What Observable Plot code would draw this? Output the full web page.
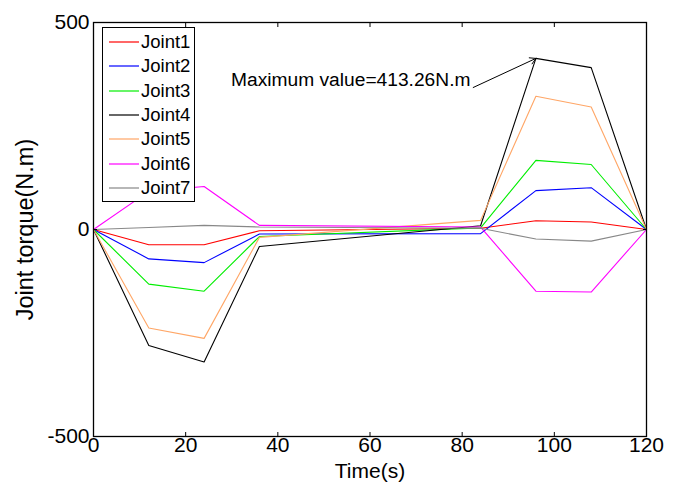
<!DOCTYPE html>
<html>
<head>
<meta charset="utf-8">
<script src="https://cdn.jsdelivr.net/npm/d3@7"></script>
<script src="https://cdn.jsdelivr.net/npm/@observablehq/plot@0.6"></script>
<style>
  html, body { margin: 0; padding: 0; background: #fff; }
  #wrap { position: relative; width: 678px; height: 483px; font-family: "Liberation Sans", Arial, sans-serif; }
  #legend { position: absolute; left: 102px; top: 27px; width: 93px; height: 175px; border: 1px solid #000; background: #fff; box-sizing: border-box; }
  #legend .row { position: absolute; left: 0; height: 20px; display: flex; align-items: center; font-size: 18.5px; color: #000; }
  #legend svg { margin-left: 6px; margin-right: 2px; }
</style>
</head>
<body>
<div id="wrap"><div id="legend"></div></div>
<script>
// Time samples (s)
const times = [0, 12, 24, 36, 84, 96, 108, 120];
// Joint torques (N.m)
const joint1 = [0, -37, -37, -3, 3, 21, 18, 0];
const joint2 = [0, -71, -80, -11, -10, 94, 101, 0];
const joint3 = [0, -132, -149, -17, 4, 167, 157, 0];
const joint4 = [0, -280, -320, -41, 9, 413.26, 391, 0];
const joint5 = [0, -238, -263, -19, 22, 322, 296, 0];
const joint6 = [0, 92, 104, 10, 6, -149, -151, 0];
const joint7 = [0, 5, 10, 6, 3, -23, -28, 0];

const seriesNames = ["Joint1", "Joint2", "Joint3", "Joint4", "Joint5", "Joint6", "Joint7"];
const seriesValues = [joint1, joint2, joint3, joint4, joint5, joint6, joint7];
const seriesColors = ["#ff0000", "#0000ff", "#00ee00", "#000000", "#ffa666", "#ff00ff", "#888888"];

const xTicks = [0, 20, 40, 60, 80, 100, 120];
const yTicks = [-500, 0, 500];

// annotation
const annText = "Maximum value=413.26N.m";
const annTextPos = {t: 81.8, v: 362};
const annArrowFrom = {t: 82.4, v: 343};
const annArrowTo = {t: 96, v: 413.26};

const rows = [];
seriesNames.forEach((name, i) => {
  times.forEach((t, j) => rows.push({series: name, t, v: seriesValues[i][j]}));
});

const font = "Liberation Sans, Arial, sans-serif";

const plot = Plot.plot({
  width: 678,
  height: 483,
  marginLeft: 93,
  marginRight: 32,
  marginTop: 22,
  marginBottom: 47,
  style: {fontFamily: font, fontSize: "21px", background: "transparent", color: "#000"},
  x: {domain: [0, 120]},
  y: {domain: [-500, 500]},
  color: {domain: seriesNames, range: seriesColors},
  marks: [
    Plot.line(rows, {x: "t", y: "v", z: "series", stroke: "series", strokeWidth: 1.1}),
    Plot.axisX(xTicks, {anchor: "bottom", tickSize: -4, tickFormat: d => String(d), tickPadding: 5, label: "Time(s)", labelAnchor: "center", labelOffset: 41, labelArrow: "none", fontSize: 21}),
    Plot.axisX(xTicks, {anchor: "top", tickSize: -4, tickFormat: null, text: null, label: null}),
    Plot.axisY(yTicks, {anchor: "left", tickSize: -4, tickFormat: d => String(d), tickPadding: 8, label: "Joint torque(N.m)", labelAnchor: "center", labelOffset: 77, labelArrow: "none", fontSize: 21}),
    Plot.axisY(yTicks, {anchor: "right", tickSize: -4, tickFormat: null, text: null, label: null}),
    Plot.frame({stroke: "#000", strokeWidth: 1.3}),
    Plot.text([annText], {x: annTextPos.t, y: annTextPos.v, text: d => d, textAnchor: "end", fontSize: 19.2, fill: "#000"}),
    Plot.arrow([annArrowFrom], {x1: "t", y1: "v", x2: () => annArrowTo.t, y2: () => annArrowTo.v, stroke: "#000", strokeWidth: 1, headLength: 10, bend: 0})
  ]
});
const yl = plot.querySelector('[aria-label="y-axis label"] text');
if (yl) yl.setAttribute("font-size", "23.5");
document.getElementById("wrap").prepend(plot);

// legend
const legend = document.getElementById("legend");
seriesNames.forEach((name, i) => {
  const row = document.createElement("div");
  row.className = "row";
  row.style.top = (4 + i * 24.3) + "px";
  row.innerHTML = `<svg width="30" height="4"><line x1="0" y1="2" x2="30" y2="2" stroke="${seriesColors[i]}" stroke-width="1.2"/></svg><span>${name}</span>`;
  legend.appendChild(row);
});
</script>
</body>
</html>
